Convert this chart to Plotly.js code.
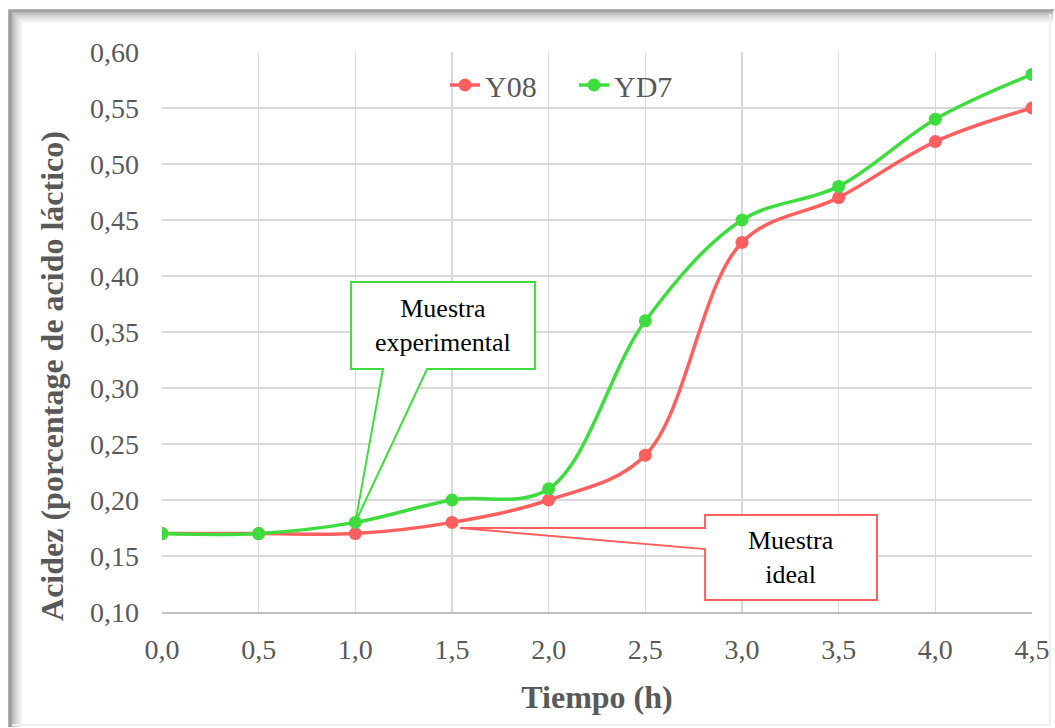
<!DOCTYPE html>
<html>
<head>
<meta charset="utf-8">
<script src="https://cdn.plot.ly/plotly-3.0.1.min.js"></script>
<style>
html,body{margin:0;padding:0;background:#fff;}
#chart{width:1055px;height:728px;}
</style>
</head>
<body>
<div id="chart"></div>
<script>
// ---- data ----
const tiempo = [0, 0.5, 1.0, 1.5, 2.0, 2.5, 3.0, 3.5, 4.0, 4.5];
const y08 = [0.17, 0.17, 0.17, 0.18, 0.20, 0.24, 0.43, 0.47, 0.52, 0.55];
const yd7 = [0.17, 0.17, 0.18, 0.20, 0.21, 0.36, 0.45, 0.48, 0.54, 0.58];
const seriesNames = ['Y08', 'YD7'];
const xTickVals = [0, 0.5, 1.0, 1.5, 2.0, 2.5, 3.0, 3.5, 4.0, 4.5];
const xTickText = ['0,0', '0,5', '1,0', '1,5', '2,0', '2,5', '3,0', '3,5', '4,0', '4,5'];
const yTickVals = [0.10, 0.15, 0.20, 0.25, 0.30, 0.35, 0.40, 0.45, 0.50, 0.55, 0.60];
const yTickText = ['0,10', '0,15', '0,20', '0,25', '0,30', '0,35', '0,40', '0,45', '0,50', '0,55', '0,60'];
const calloutTexts = ['Muestra<br>experimental', 'Muestra<br>ideal'];
const xTitle = 'Tiempo (h)';
const yTitle = 'Acidez (porcentage de acido láctico)';

// ---- layout geometry ----
const W = 1055, H = 728, ML = 162, MR = 23, MT = 52, MB = 116;
const PW = W - ML - MR, PH = H - MT - MB;
const px2x = p => (p - ML) / PW;          // pixel -> paper x
const py2y = p => (H - MB - p) / PH;      // pixel -> paper y
const RED = '#FF5F5F', GREEN = '#3EDC3E', TXT = '#595959', GRID = '#D9D9D9';
const FONT = '"Liberation Serif", "Times New Roman", "DejaVu Serif", serif';

const traces = [
  {x: tiempo, y: y08, name: seriesNames[0], type: 'scatter', mode: 'lines+markers',
   line: {color: RED, width: 3.5, shape: 'spline', smoothing: 1},
   marker: {color: RED, size: 13, symbol: 'circle'}},
  {x: tiempo, y: yd7, name: seriesNames[1], type: 'scatter', mode: 'lines+markers',
   line: {color: GREEN, width: 3.5, shape: 'spline', smoothing: 1},
   marker: {color: GREEN, size: 13, symbol: 'circle'}}
];

// frame with inner shadow (paper coordinates)
const shapes = [];
const N = 14;
for (let i = N - 1; i >= 0; i--) {
  const t = i / (N - 1);
  const g = Math.round(125 + (255 - 125) * Math.pow(t, 0.6));
  const c = `rgb(${g},${g},${g})`;
  shapes.push({type: 'path', xref: 'paper', yref: 'paper', layer: 'below',
    path: `M ${px2x(10 + i)},${py2y(727)} L ${px2x(10 + i)},${py2y(11 + i)} L ${px2x(1053)},${py2y(11 + i)}`,
    line: {color: c, width: 1.2}});
}
shapes.push({type: 'path', xref: 'paper', yref: 'paper', layer: 'below',
  path: `M ${px2x(9)},${py2y(727)} L ${px2x(9)},${py2y(10)} L ${px2x(1054)},${py2y(10)}`,
  line: {color: '#9a9a9a', width: 1.5}});
shapes.push({type: 'path', xref: 'paper', yref: 'paper', layer: 'below',
  path: `M ${px2x(1050)},${py2y(14)} L ${px2x(1050)},${py2y(725)} L ${px2x(12)},${py2y(725)}`,
  line: {color: '#ececec', width: 2}});

// callouts in data coordinates
const gb = {x0: 0.978, x1: 1.929, y0: 0.317, y1: 0.3946, pa: 1.143, pb: 1.371, tx: 1.0, ty: 0.18};
shapes.push({type: 'path', xref: 'x', yref: 'y', layer: 'above',
  path: `M ${gb.x0},${gb.y1} L ${gb.x1},${gb.y1} L ${gb.x1},${gb.y0} L ${gb.pb},${gb.y0} L ${gb.tx},${gb.ty} L ${gb.pa},${gb.y0} L ${gb.x0},${gb.y0} Z`,
  fillcolor: '#ffffff', line: {color: GREEN, width: 2}});
const rb = {x0: 2.809, x1: 3.698, y0: 0.1107, y1: 0.1866, pa: 0.175, pb: 0.1562, tx: 1.541, ty: 0.175};
shapes.push({type: 'path', xref: 'x', yref: 'y', layer: 'above',
  path: `M ${rb.x0},${rb.y1} L ${rb.x1},${rb.y1} L ${rb.x1},${rb.y0} L ${rb.x0},${rb.y0} L ${rb.x0},${rb.pb} L ${rb.tx},${rb.ty} L ${rb.x0},${rb.pa} Z`,
  fillcolor: '#ffffff', line: {color: RED, width: 2}});

const annotations = [
  {x: (gb.x0 + gb.x1) / 2, y: (gb.y0 + gb.y1) / 2, xref: 'x', yref: 'y', text: calloutTexts[0],
   showarrow: false, font: {family: FONT, size: 26, color: '#000'}, align: 'center'},
  {x: (rb.x0 + rb.x1) / 2, y: (rb.y0 + rb.y1) / 2, xref: 'x', yref: 'y', text: calloutTexts[1],
   showarrow: false, font: {family: FONT, size: 26, color: '#000'}, align: 'center'}
];

// trailing padding shifts the rotated y title down, as in the reference
const yTitlePad = '&nbsp;'.repeat(11);

const layout = {
  width: W, height: H,
  margin: {l: ML, r: MR, t: MT, b: MB, pad: 0},
  paper_bgcolor: '#ffffff', plot_bgcolor: '#ffffff',
  font: {family: FONT, color: TXT},
  showlegend: true,
  legend: {orientation: 'h', x: px2x(574), y: py2y(85), xanchor: 'center', yanchor: 'middle',
           font: {family: FONT, size: 30, color: TXT}, bgcolor: 'rgba(0,0,0,0)',
           itemwidth: 30, entrywidth: 84},
  xaxis: {range: [0, 4.5], tickvals: xTickVals, ticktext: xTickText,
          showgrid: true, gridcolor: GRID, gridwidth: 1.5, zeroline: false,
          showline: true, linecolor: '#BFBFBF', linewidth: 1.5, ticks: '',
          tickfont: {family: FONT, size: 28, color: TXT}, ticklabelstandoff: 12,
          title: {text: '<b>' + xTitle + '</b>', font: {family: FONT, size: 32, color: TXT}, standoff: 21},
          automargin: false, fixedrange: true},
  yaxis: {range: [0.10, 0.60], tickvals: yTickVals, ticktext: yTickText,
          showgrid: true, gridcolor: GRID, gridwidth: 1.5, zeroline: false,
          showline: false, ticks: '',
          tickfont: {family: FONT, size: 28, color: TXT}, ticklabelstandoff: 22,
          title: {text: '<b>' + yTitle + yTitlePad + '</b>', font: {family: FONT, size: 32, color: TXT}, standoff: 16},
          automargin: false, fixedrange: true},
  shapes: shapes,
  annotations: annotations
};

Plotly.newPlot('chart', traces, layout, {displayModeBar: false, staticPlot: true});
</script>
</body>
</html>
